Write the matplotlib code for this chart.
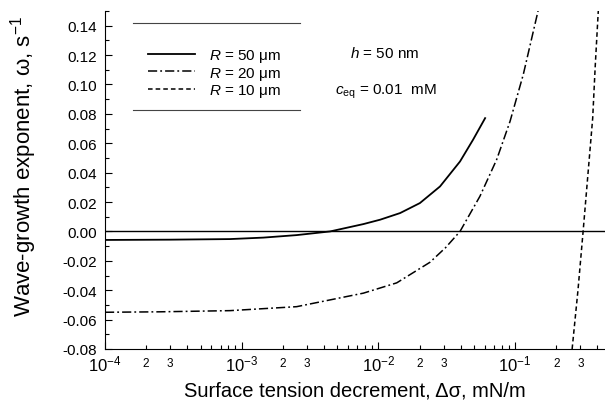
import numpy as np
import matplotlib
matplotlib.use("Agg")
import matplotlib.pyplot as plt
from matplotlib.ticker import LogLocator, FuncFormatter, MultipleLocator
from matplotlib.lines import Line2D

plt.rcParams["font.family"] = ["Liberation Sans", "DejaVu Sans"]
plt.rcParams["mathtext.fontset"] = "custom"
plt.rcParams["mathtext.rm"] = "Liberation Sans"
plt.rcParams["mathtext.it"] = "Liberation Sans:italic"
plt.rcParams["mathtext.default"] = "regular"
plt.rcParams["axes.unicode_minus"] = False

# surface tension decrement (mN/m) vs wave-growth exponent (1/s)
x_r50 = [1e-4, 3e-4, 8.2e-4, 1.44e-3, 2.52e-3, 4.43e-3, 7.76e-3, 0.0103, 0.0144,
         0.0201, 0.0282, 0.0395, 0.0492, 0.0603]
y_r50 = [-0.0058, -0.0056, -0.0052, -0.0042, -0.0025, 0.0000, 0.0050, 0.0080, 0.0125,
         0.0193, 0.0306, 0.0476, 0.0624, 0.0771]

x_r20 = [1e-4, 2.5e-4, 8.2e-4, 2.52e-3, 7.76e-3, 0.0136, 0.0238, 0.0310, 0.0395,
         0.0553, 0.0733, 0.0918, 0.1148, 0.147]
y_r20 = [-0.0550, -0.0547, -0.0539, -0.0512, -0.0420, -0.0350, -0.0210, -0.0110, 0.0000,
         0.0240, 0.0490, 0.0750, 0.1070, 0.1500]

x_r10 = [0.261, 0.288, 0.314, 0.369, 0.385, 0.406]
y_r10 = [-0.080, -0.040, 0.000, 0.0771, 0.1123, 0.1510]

labels = [r"$\mathit{R}$ = 50 μm", r"$\mathit{R}$ = 20 μm", r"$\mathit{R}$ = 10 μm"]

fig = plt.figure(figsize=(6.05, 4.02), dpi=100)
ax = fig.add_axes([105/605, 1 - 350/402, 500/605, 338/402])

ax.axhline(0, color="black", lw=1.0)
l1, = ax.plot(x_r50, y_r50, color="black", lw=1.3, ls="-")
l2, = ax.plot(x_r20, y_r20, color="black", lw=1.1, ls=(0, (6, 2, 1.2, 2)))
l3, = ax.plot(x_r10, y_r10, color="black", lw=1.1, ls=(0, (3, 2)))

ax.set_xscale("log")
ax.set_xlim(1e-4, 0.454)
ax.set_ylim(-0.08, 0.15)

ax.spines["top"].set_visible(False)
ax.spines["right"].set_visible(False)

ax.yaxis.set_major_locator(MultipleLocator(0.02))
ax.yaxis.set_minor_locator(MultipleLocator(0.01))
ax.yaxis.set_major_formatter(FuncFormatter(lambda v, p: f"{v:.2f}" if v < 0.145 else ""))

ax.xaxis.set_major_locator(LogLocator(base=10))
ax.xaxis.set_minor_locator(LogLocator(base=10, subs=np.arange(2, 10)))
ax.xaxis.set_major_formatter(FuncFormatter(lambda v, p: "10$^{%d}$" % round(np.log10(v))))


def minor_fmt(v, p):
    m = v / 10 ** np.floor(np.log10(v) + 1e-9)
    r = int(round(m))
    return str(r) if r in (2, 3) else ""


ax.xaxis.set_minor_formatter(FuncFormatter(minor_fmt))

ax.tick_params(which="both", direction="in", width=0.8)
ax.tick_params(which="major", length=5)
ax.tick_params(which="minor", length=3)
ax.tick_params(axis="y", which="major", labelsize=11, pad=6)
ax.tick_params(axis="x", which="major", labelsize=12, pad=3)
ax.tick_params(axis="x", which="minor", labelsize=8.5, pad=6)

ax.set_xlabel("Surface tension decrement, Δσ, mN/m", fontsize=14.5, labelpad=5.5)
ax.set_ylabel("Wave-growth exponent, ω, s$^{-1}$", fontsize=16)
ax.yaxis.set_label_coords(-0.132, 0.544)

leg = ax.legend([l1, l2, l3], labels, loc="center left", bbox_to_anchor=(0.086, 0.816),
                frameon=False, fontsize=11, borderpad=0, borderaxespad=0,
                handlelength=3.05, handletextpad=0.95, labelspacing=0.02)

# legend box: only top and bottom rules
for yy in (0.964, 0.707):
    ax.add_line(Line2D([0.056, 0.39], [yy, yy], transform=ax.transAxes,
                       color="#444444", lw=0.8, clip_on=False))

ax.text(0.49, 0.878, r"$\mathit{h}$ = 50 nm", transform=ax.transAxes, fontsize=11,
        ha="left", va="center")
ax.text(0.46, 0.765, r"$\mathit{c}_{\mathrm{eq}}$ = 0.01  mM", transform=ax.transAxes,
        fontsize=11, ha="left", va="center")

fig.savefig("out.png", dpi=100)
